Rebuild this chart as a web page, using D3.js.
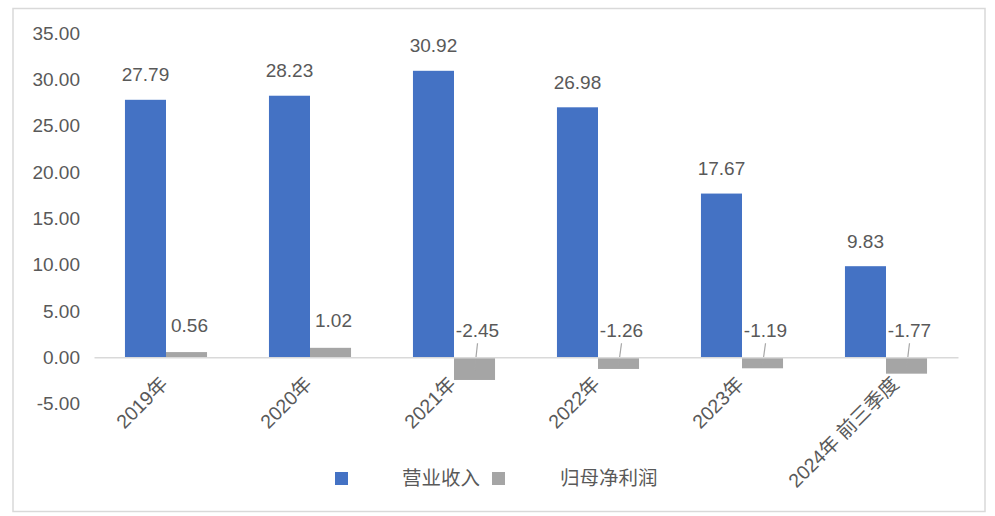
<!DOCTYPE html>
<html>
<head>
<meta charset="utf-8">
<script src="https://cdn.jsdelivr.net/npm/d3@7"></script>
<style>
  body { margin: 0; background: #fff; }
  text { font-family: "Liberation Sans", "Noto Sans CJK SC", sans-serif; fill: #595959; }
</style>
</head>
<body>
<div id="chart"></div>
<script>
// data
var categories = ["2019年", "2020年", "2021年", "2022年", "2023年", "2024年 前三季度"];
var revenue = [27.79, 28.23, 30.92, 26.98, 17.67, 9.83];
var netProfit = [0.56, 1.02, -2.45, -1.26, -1.19, -1.77];
var seriesNames = ["营业收入", "归母净利润"];
var yTicks = [-5, 0, 5, 10, 15, 20, 25, 30, 35];

var svgWidth = 995;
var svgHeight = 516;
var colors = ["#4472c4", "#a5a5a5"];
var fontStack = "'Liberation Sans', 'Noto Sans CJK SC', sans-serif";

var svg = d3.select("#chart")
    .append("svg")
    .attr("width", svgWidth)
    .attr("height", svgHeight);

// outer frame
svg.append("rect")
    .attr("x", 13)
    .attr("y", 8.5)
    .attr("width", 972)
    .attr("height", 503)
    .attr("fill", "none")
    .attr("stroke", "#d9d9d9")
    .attr("stroke-width", 1.5);

var xScale = d3.scaleBand()
    .domain(categories)
    .range([94, 958])
    .paddingInner(0.43)
    .paddingOuter(0.215);

var xSeries = d3.scaleBand()
    .domain(seriesNames)
    .range([0, xScale.bandwidth()]);

var yScale = d3.scaleLinear()
    .domain([-5, 35])
    .range([403.6, 33]);

// y axis labels
var yAxis = d3.axisLeft(yScale)
    .tickValues(yTicks)
    .tickSize(0)
    .tickPadding(0)
    .tickFormat(d => d.toFixed(2));

var yG = svg.append("g")
    .attr("transform", "translate(80,0)")
    .call(yAxis);
yG.select(".domain").remove();
yG.selectAll("text")
    .attr("font-size", "19px")
    .attr("fill", "#595959")
    .style("font-family", fontStack);

// rows for grouped bars
var rows = categories.map((c, i) => ({cat: c, values: [revenue[i], netProfit[i]]}));

var groups = svg.selectAll("g.cat")
    .data(rows)
    .enter()
    .append("g")
    .attr("class", "cat")
    .attr("transform", d => `translate(${xScale(d.cat)},0)`);

groups.selectAll("rect")
    .data(d => d.values.map((v, j) => ({v: v, s: seriesNames[j], j: j})))
    .enter()
    .append("rect")
    .attr("x", d => xSeries(d.s))
    .attr("width", xSeries.bandwidth())
    .attr("y", d => yScale(Math.max(0, d.v)))
    .attr("height", d => Math.abs(yScale(d.v) - yScale(0)))
    .attr("fill", d => colors[d.j]);

// zero axis line
var xAxis = d3.axisBottom(xScale).tickSize(0).tickFormat("");
var xG = svg.append("g")
    .attr("transform", `translate(0,${yScale(0)})`)
    .call(xAxis);
xG.select(".domain")
    .attr("stroke", "#d9d9d9")
    .attr("stroke-width", 1.5);

// category labels, rotated
svg.selectAll("text.cat-label")
    .data(categories)
    .enter()
    .append("text")
    .attr("class", "cat-label")
    .attr("transform", (d, i) => `translate(${xScale(d) + xScale.bandwidth() / 2 + (i == categories.length - 1 ? 14 : 3)},${yScale(0) + 28}) rotate(-45)`)
    .attr("text-anchor", "end")
    .attr("font-size", "19.5px")
    .text(d => d);

// revenue labels
groups.append("text")
    .attr("x", xSeries(seriesNames[0]) + xSeries.bandwidth() / 2)
    .attr("y", d => yScale(d.values[0]) - 25)
    .attr("dy", "0.35em")
    .attr("text-anchor", "middle")
    .attr("font-size", "19px")
    .text(d => d.values[0].toFixed(2));

// net profit labels (negative ones sit above the axis with a leader line)
var px = xSeries(seriesNames[1]) + xSeries.bandwidth() / 2;

groups.filter(d => d.values[1] < 0)
    .append("line")
    .attr("x1", px + 3)
    .attr("y1", yScale(0) - 14)
    .attr("x2", px)
    .attr("y2", d => (yScale(0) + yScale(d.values[1])) / 2 + 2)
    .attr("stroke", "#a6a6a6")
    .attr("stroke-width", 1.2);

groups.append("text")
    .attr("x", px + 3)
    .attr("y", d => d.values[1] >= 0 ? yScale(d.values[1]) - 27 : yScale(0) - 27)
    .attr("dy", "0.35em")
    .attr("text-anchor", "middle")
    .attr("font-size", "19px")
    .text(d => d.values[1].toFixed(2));

// legend
var legend = svg.append("g");
var legendX = [335, 492];
var legendTextX = [402, 560];
seriesNames.forEach(function(name, i) {
    legend.append("rect")
        .attr("x", legendX[i])
        .attr("y", 472)
        .attr("width", 13)
        .attr("height", 13)
        .attr("fill", colors[i]);
    legend.append("text")
        .attr("x", legendTextX[i])
        .attr("y", 478)
        .attr("dy", "0.35em")
        .attr("font-size", "19.5px")
        .text(name);
});
</script>
</body>
</html>
